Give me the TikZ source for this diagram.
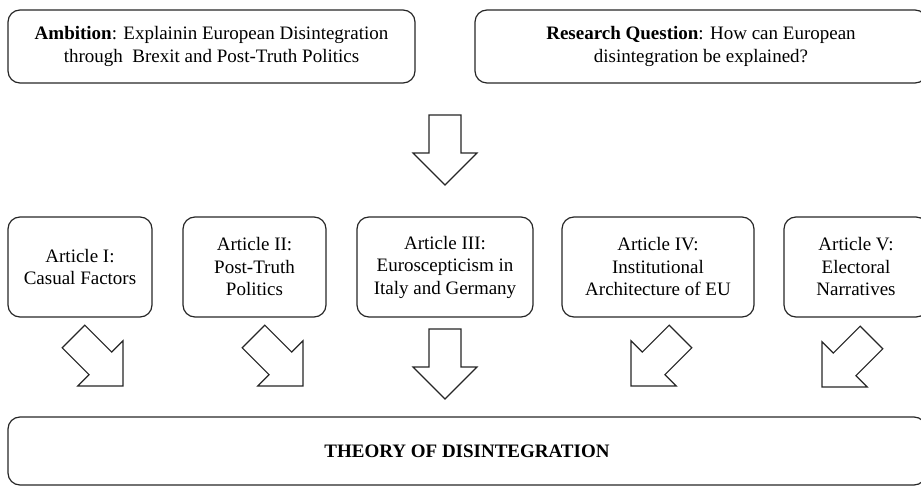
\documentclass[tikz,border=0pt]{standalone}
\usepackage{fontspec}
\setmainfont{Liberation Serif}
\begin{document}
\begin{tikzpicture}[x=1pt,y=-1pt,
  box/.style={draw=black!85, line width=1.2pt, rounded corners=12pt, inner sep=0pt, align=center},
  topbox/.style={box, minimum height=73pt, font=\fontsize{19}{22.5}\selectfont},
  artbox/.style={box, minimum height=100pt, font=\fontsize{19}{22.5}\selectfont},
  blockarrow/.style={draw=black!85, line width=1.1pt, fill=white, line join=miter}
]
\newcommand{\bigarrow}[3]{%
  \begin{scope}[shift={(#1,#2)}, rotate=#3]
    \draw[blockarrow] (-16,-70) -- (16,-70) -- (16,-32) -- (32,-32) -- (0,0) -- (-32,-32) -- (-16,-32) -- cycle;
  \end{scope}}
\clip (0,0) rectangle (921,486);
\useasboundingbox (0,0) rectangle (921,486);

\node[topbox, minimum width=407pt] (amb) at (211.5,46.5)
  {\textbf{Ambition}: Explainin European Disintegration\\through\ \ Brexit and Post-Truth Politics};
\node[topbox, minimum width=452pt] (rq) at (701,46.5)
  {\textbf{Research Question}: How can European\\disintegration be explained?};

\bigarrow{445}{185}{0}

\node[artbox, minimum width=144pt] (a1) at (80,267) {Article I:\\Casual Factors};
\node[artbox, minimum width=143pt] (a2) at (254.5,267) {Article II:\\Post-Truth\\Politics};
\node[artbox, minimum width=176pt] (a3) at (445,267) {Article III:\\Euroscepticism in\\Italy and Germany};
\node[artbox, minimum width=192pt] (a4) at (658,267) {Article IV:\\Institutional\\Architecture of EU};
\node[artbox, minimum width=144pt] (a5) at (856,267) {Article V:\\Electoral\\Narratives};

\bigarrow{123}{386}{45}
\bigarrow{303}{386}{45}
\bigarrow{445}{399}{0}
\bigarrow{631}{386}{-45}
\bigarrow{822}{387}{-45}

\node[box, minimum width=918pt, minimum height=68pt, font=\fontsize{19}{22}\selectfont\bfseries] (th) at (467,451) {THEORY OF DISINTEGRATION};
\end{tikzpicture}
\end{document}
